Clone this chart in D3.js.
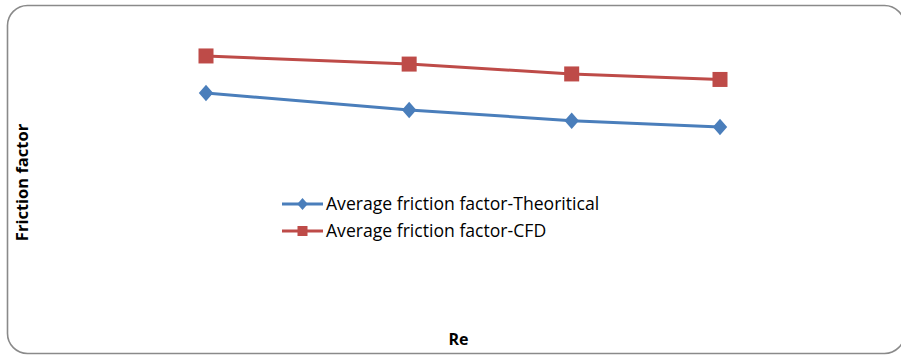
<!DOCTYPE html>
<html>
<head>
<meta charset="utf-8">
<script src="https://cdn.jsdelivr.net/npm/d3@7"></script>
<style>
  body { margin: 0; background: #fff; }
  svg { display: block; }
</style>
</head>
<body>
<svg id="chart"></svg>
<script>
// Reynolds numbers (x) and friction factors (y)
const reValues = [10000, 20000, 28000, 35300];
const theoretical = [0.0748, 0.0690, 0.0653, 0.0631];
const cfd = [0.0876, 0.0848, 0.0814, 0.0795];
const seriesNames = ["Average friction factor-Theoritical", "Average friction factor-CFD"];

const width = 901, height = 355;

const svg = d3.select("#chart")
  .attr("width", width)
  .attr("height", height);

// outer chart frame (right side runs past the picture)
svg.append("rect")
  .attr("x", 7.5).attr("y", 5.5)
  .attr("width", 897).attr("height", 348)
  .attr("rx", 20).attr("ry", 20)
  .attr("fill", "#fff")
  .attr("stroke", "#8a8a8a")
  .attr("stroke-width", 1.6);

const x = d3.scaleLinear().domain([10000, 35300]).range([206, 720]);
const y = d3.scaleLinear().domain([0, 0.1]).range([310, 20]);

const series = [
  {name: seriesNames[0], values: theoretical, color: "#4a7ebb", shape: "diamond"},
  {name: seriesNames[1], values: cfd, color: "#be4b48", shape: "square"}
];

const line = d3.line()
  .x(d => x(d[0]))
  .y(d => y(d[1]));

function marker(g, shape, color, size) {
  if (shape === "square") {
    g.append("rect")
      .attr("x", -size / 2).attr("y", -size / 2)
      .attr("width", size).attr("height", size)
      .attr("fill", color);
  } else {
    const h = size * 0.55, w = size * 0.48;
    g.append("path")
      .attr("d", `M0,${-h}L${w},0L0,${h}L${-w},0Z`)
      .attr("fill", color);
  }
}

series.forEach(s => {
  const pts = reValues.map((r, i) => [r, s.values[i]]);
  svg.append("path")
    .datum(pts)
    .attr("fill", "none")
    .attr("stroke", s.color)
    .attr("stroke-width", 3)
    .attr("d", line);
  pts.forEach(p => {
    const g = svg.append("g").attr("transform", `translate(${x(p[0])},${y(p[1])})`);
    marker(g, s.shape, s.color, 15);
  });
});

// legend
const legend = svg.append("g").attr("transform", "translate(282,204)");
series.forEach((s, i) => {
  const row = legend.append("g").attr("transform", `translate(0,${i * 27})`);
  row.append("line")
    .attr("x1", 0).attr("x2", 41)
    .attr("stroke", s.color).attr("stroke-width", 3);
  const m = row.append("g").attr("transform", "translate(20.5,0)");
  marker(m, s.shape, s.color, s.shape === "square" ? 10 : 11);
  row.append("text")
    .attr("x", 44).attr("y", 5.5)
    .attr("font-family", "Open Sans")
    .attr("font-size", 17.6)
    .attr("fill", "#000")
    .text(s.name);
});

// axis titles
svg.append("text")
  .attr("transform", "translate(28,182.5) rotate(-90)")
  .attr("text-anchor", "middle")
  .attr("font-family", "Open Sans")
  .attr("font-weight", "bold")
  .attr("font-size", 16.5)
  .text("Friction factor");

svg.append("text")
  .attr("x", 458.5).attr("y", 345)
  .attr("text-anchor", "middle")
  .attr("font-family", "Open Sans")
  .attr("font-weight", "bold")
  .attr("font-size", 16)
  .text("Re");
</script>
</body>
</html>
